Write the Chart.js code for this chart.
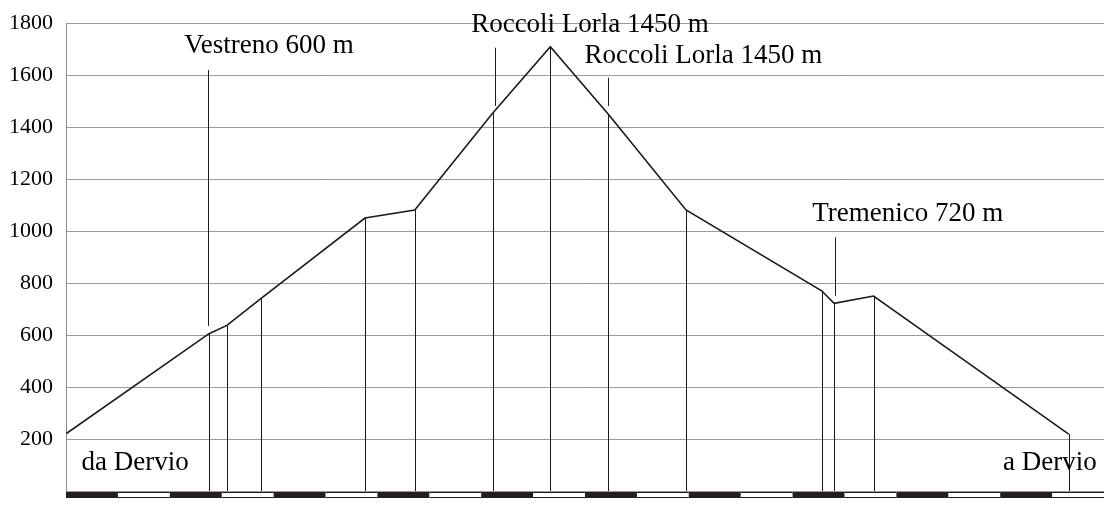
<!DOCTYPE html>
<html>
<head>
<meta charset="utf-8">
<script src="https://cdn.jsdelivr.net/npm/chart.js@4.4.1/dist/chart.umd.min.js"></script>
<style>
  body { margin: 0; background: #fff; }
  #wrap { width: 1104px; height: 506px; }
</style>
</head>
<body>
<div id="wrap"><canvas id="profile" width="1104" height="506"></canvas></div>
<script>
// distance along the route (km) and altitude (m)
const distKm = [0, 1.378, 1.55, 1.88, 2.88, 3.36, 4.11, 4.666, 5.225, 5.973, 7.28, 7.40, 7.78, 9.66];
const altitude = [220, 605, 637, 741, 1050, 1081, 1453, 1709, 1449, 1081, 770, 722, 750, 219];

const yTicks = [0, 200, 400, 600, 800, 1000, 1200, 1400, 1600, 1800];

// place names and the little leader line for each
const placeNames = ['Vestreno 600 m', 'Roccoli Lorla 1450 m', 'Roccoli Lorla 1450 m', 'Tremenico 720 m'];
const leaderKm = [1.365, 4.133, 5.225, 7.41];
const leaderTop = [1619, 1705, 1590, 976];
const leaderBottom = [635, 1481, 1481, 751];
const nameKm = [1.956, 5.048, 6.14, 8.11];
const nameAlt = [1683, 1765, 1646, 1040];

const startName = 'da Dervio';
const endName = 'a Dervio';

const serif = '"Liberation Serif", "DejaVu Serif", serif';

const profileExtras = {
  id: 'profileExtras',
  afterDatasetsDraw(chart) {
    const ctx = chart.ctx;
    const x = chart.scales.x, y = chart.scales.y;
    const base = y.getPixelForValue(0);
    ctx.save();
    ctx.strokeStyle = '#1a1a1a';
    ctx.lineWidth = 1;
    // drop lines from every bend down to the base
    for (let i = 1; i < distKm.length; i++) {
      const px = Math.round(x.getPixelForValue(distKm[i])) + 0.5;
      ctx.beginPath();
      ctx.moveTo(px, y.getPixelForValue(altitude[i]));
      ctx.lineTo(px, base);
      ctx.stroke();
    }
    // leader lines under the names
    for (let i = 0; i < leaderKm.length; i++) {
      const px = Math.round(x.getPixelForValue(leaderKm[i])) + 0.5;
      ctx.beginPath();
      ctx.moveTo(px, y.getPixelForValue(leaderTop[i]));
      ctx.lineTo(px, y.getPixelForValue(leaderBottom[i]));
      ctx.stroke();
    }
    ctx.restore();
  },
  afterDraw(chart) {
    const ctx = chart.ctx;
    const x = chart.scales.x, y = chart.scales.y;
    ctx.save();
    ctx.fillStyle = '#000';
    ctx.font = '27px ' + serif;
    ctx.textBaseline = 'alphabetic';
    ctx.textAlign = 'center';
    placeNames.forEach((t, i) => {
      ctx.fillText(t, x.getPixelForValue(nameKm[i]), y.getPixelForValue(nameAlt[i]));
    });
    ctx.textAlign = 'left';
    ctx.fillText(startName, x.getPixelForValue(0.15), y.getPixelForValue(81));
    ctx.textAlign = 'right';
    ctx.fillText(endName, x.getPixelForValue(9.93), y.getPixelForValue(81));

    // distance scale bar, half km segments
    const top = Math.round(y.getPixelForValue(0)) + 1;
    const h = 5;
    ctx.strokeStyle = '#1a1a1a';
    ctx.lineWidth = 1;
    for (let k = 0; k < 20; k++) {
      const x0 = x.getPixelForValue(k * 0.5);
      const x1 = x.getPixelForValue((k + 1) * 0.5);
      if (k % 2 === 0) {
        ctx.fillStyle = '#231f20';
        ctx.fillRect(x0, top, x1 - x0, h + 1);
      } else {
        ctx.beginPath();
        ctx.moveTo(x0, top + 0.5);
        ctx.lineTo(x1, top + 0.5);
        ctx.moveTo(x0, top + h + 0.5);
        ctx.lineTo(x1, top + h + 0.5);
        ctx.stroke();
      }
    }
    ctx.restore();
  }
};

new Chart(document.getElementById('profile'), {
  type: 'line',
  data: {
    datasets: [{
      data: distKm.map((d, i) => ({ x: d, y: altitude[i] })),
      borderColor: '#1a1a1a',
      borderWidth: 1.6,
      pointRadius: 0,
      tension: 0,
      fill: false
    }]
  },
  options: {
    responsive: false,
    animation: false,
    devicePixelRatio: 1,
    layout: { padding: { top: 23, bottom: 15, left: 0, right: 0 } },
    plugins: { legend: { display: false }, tooltip: { enabled: false } },
    scales: {
      x: { type: 'linear', min: 0, max: 10, display: false },
      y: {
        min: 0,
        max: 1800,
        afterBuildTicks: function(scale) {
          scale.ticks = yTicks.map(v => ({ value: v }));
        },
        afterFit: function(scale) {
          scale.width = 66;
          scale.paddingTop = 0;
          scale.paddingBottom = 0;
        },
        ticks: {
          color: '#000',
          padding: 13,
          font: { family: serif, size: 22 },
          callback: function(value) { return value === 0 ? '' : value; }
        },
        grid: { color: '#9a9a9a', lineWidth: 1, drawTicks: false },
        border: { display: true, color: '#8a8a8a', width: 1 }
      }
    }
  },
  plugins: [profileExtras]
});
</script>
</body>
</html>
